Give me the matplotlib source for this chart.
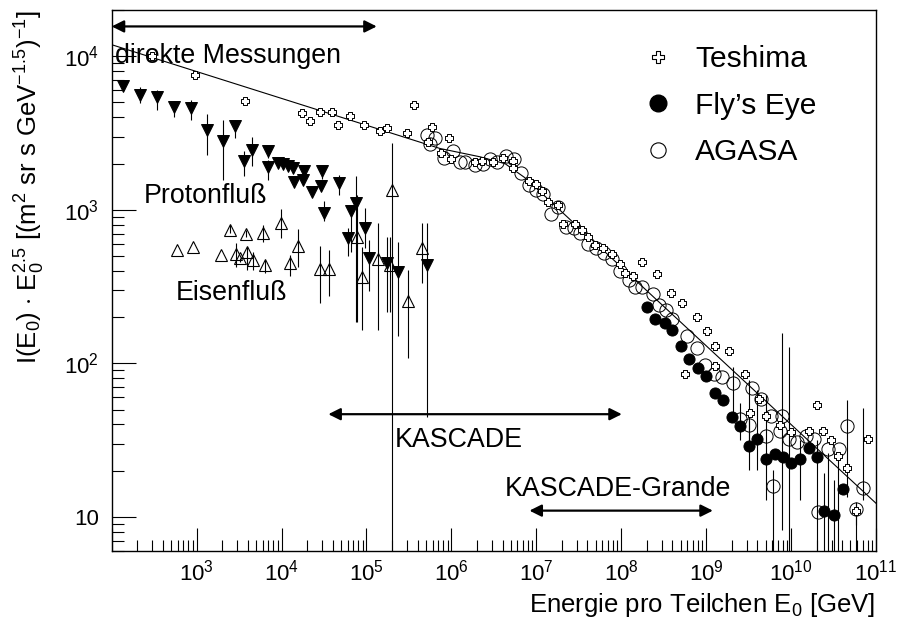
import numpy as np
import matplotlib
matplotlib.use("Agg")
import matplotlib.pyplot as plt
from matplotlib.path import Path
from matplotlib.lines import Line2D
from matplotlib.ticker import LogLocator, FuncFormatter, NullFormatter

plt.rcParams['font.family'] = ['Liberation Sans', 'DejaVu Sans']
plt.rcParams['mathtext.fontset'] = 'custom'
plt.rcParams['mathtext.rm'] = 'Liberation Sans'
plt.rcParams['mathtext.it'] = 'Liberation Sans:italic'
plt.rcParams['mathtext.bf'] = 'Liberation Sans:bold'

# ---------------- data (log10 E [GeV], log10 flux*E^2.5) ----------------
proton_lgE = [2.137, 2.333, 2.530, 2.734, 2.930, 3.126, 3.314, 3.452, 3.558, 3.656, 3.837, 3.837,
              3.962, 4.021, 4.080, 4.139, 4.147, 4.265, 4.257, 4.363, 4.474, 4.462, 4.501, 4.681,
              4.815, 4.874, 4.780, 4.983, 5.034, 5.246, 5.369, 5.710]
proton_lgF = [3.803, 3.749, 3.734, 3.669, 3.663, 3.517, 3.445, 3.543, 3.315, 3.391, 3.386, 3.278,
              3.304, 3.300, 3.282, 3.272, 3.184, 3.250, 3.195, 3.119, 3.250, 3.152, 2.978, 3.174,
              2.989, 3.044, 2.816, 2.881, 2.685, 2.653, 2.598, 2.642]
proton_lgF_hi = [3.830, 3.797, 3.782, 3.706, 3.712, 3.625, 3.586, 3.586, 3.380, 3.474, 3.412, 3.326,
                 3.320, 3.320, 3.300, 3.290, 3.200, 3.280, 3.220, 3.140, 3.287, 3.180, 3.060, 3.228,
                 3.013, 3.217, 2.883, 3.013, 2.805, 2.826, 2.793, 2.913]
proton_lgF_lo = [3.780, 3.695, 3.651, 3.604, 3.582, 3.358, 3.195, 3.469, 3.217, 3.287, 3.337, 3.195,
                 3.290, 3.280, 3.260, 3.250, 3.160, 3.220, 3.170, 3.090, 3.200, 3.120, 2.930, 3.098,
                 2.726, 2.272, 2.700, 2.752, 2.468, 2.337, 2.175, 1.651]

iron_lgE = [2.766, 2.961, 3.287, 3.393, 3.461, 3.511, 3.582, 3.590, 3.661, 3.786, 3.806, 3.991,
            4.100, 4.198, 4.453, 4.563, 4.893, 4.945, 5.140, 5.278, 5.298, 5.494, 5.651]
iron_lgF = [2.739, 2.757, 2.707, 2.870, 2.713, 2.685, 2.842, 2.728, 2.670, 2.852, 2.642, 2.917,
            2.653, 2.765, 2.614, 2.614, 2.826, 2.562, 2.679, 2.642, 3.130, 2.403, 2.750]
iron_lgF_hi = [2.739, 2.757, 2.707, 2.900, 2.785, 2.685, 2.870, 2.759, 2.726, 2.902, 2.674, 3.007,
               2.707, 2.876, 2.765, 2.739, 3.098, 2.759, 2.915, 2.824, 3.436, 2.609, 2.915]
iron_lgF_lo = [2.739, 2.757, 2.707, 2.850, 2.629, 2.660, 2.820, 2.609, 2.609, 2.792, 2.590, 2.818,
               2.570, 2.629, 2.394, 2.440, 2.270, 2.218, 2.218, 2.335, 0.300, 2.036, 2.524]

teshima_lgE = [2.47, 2.98, 3.57, 4.24, 4.33, 4.45, 4.60, 4.66, 4.81, 4.97, 5.16, 5.24, 5.48, 5.56,
               5.77, 5.73, 5.97, 5.88, 5.99, 6.28, 6.36, 6.49, 6.61, 6.72, 6.73, 6.91, 7.00, 7.07,
               7.14, 7.26, 7.32, 7.45, 7.54, 7.61, 7.69, 7.79, 7.89, 7.98, 8.05, 8.14, 8.25, 8.42,
               8.59, 8.71, 8.89, 9.01, 9.11, 9.27, 8.75, 9.11, 9.46, 9.62, 9.52, 9.70, 9.87, 10.00,
               10.21, 10.30, 10.38, 10.47, 10.55, 10.66, 10.91, 10.77]
teshima_lgF = [4.00, 3.88, 3.71, 3.63, 3.58, 3.64, 3.64, 3.55, 3.61, 3.55, 3.51, 3.53, 3.50, 3.68,
               3.54, 3.44, 3.47, 3.37, 3.33, 3.31, 3.32, 3.31, 3.34, 3.32, 3.27, 3.19, 3.17, 3.12,
               3.05, 3.03, 2.91, 2.91, 2.87, 2.82, 2.77, 2.75, 2.71, 2.65, 2.59, 2.57, 2.66, 2.58,
               2.46, 2.39, 2.30, 2.21, 2.11, 2.08, 1.93, 1.98, 1.93, 1.77, 1.68, 1.66, 1.60, 1.55,
               1.56, 1.73, 1.56, 1.50, 1.40, 1.32, 1.51, 1.04]
teshima_err_idx = [60, 63]
teshima_err_hi = [1.391, 1.10]
teshima_err_lo = [0.300, 0.95]

flyseye_lgE = [8.30, 8.40, 8.51, 8.60, 8.70, 8.80, 8.90, 9.00, 9.11, 9.20, 9.30, 9.40, 9.50, 9.60,
               9.71, 9.81, 9.91, 10.00, 10.10, 10.21, 10.30, 10.39, 10.51, 10.61]
flyseye_lgF = [2.37, 2.29, 2.26, 2.22, 2.11, 2.03, 1.97, 1.92, 1.81, 1.76, 1.65, 1.59, 1.46, 1.51,
               1.38, 1.41, 1.39, 1.35, 1.38, 1.45, 1.39, 1.04, 1.01, 1.18]
flyseye_err_idx = [12, 13, 14, 18, 20, 21, 22]
flyseye_err_hi = [1.632, 1.827, 1.795, 1.502, 1.502, 1.287, 1.241]
flyseye_err_lo = [1.306, 1.306, 1.111, 1.111, 0.300, 0.300, 0.300]

agasa_lgE = [5.71, 5.81, 5.75, 5.91, 6.02, 6.10, 6.16, 6.28, 6.37, 6.46, 6.54, 6.64, 6.74, 6.82,
             6.91, 7.00, 7.08, 7.17, 7.26, 7.35, 7.44, 7.52, 7.61, 7.70, 7.80, 7.89, 7.98, 8.09,
             8.16, 8.25, 8.37, 8.44, 8.53, 8.60, 8.78, 8.89, 8.99, 9.09, 9.19, 9.32, 9.40, 9.50,
             9.54, 9.64, 9.70, 9.76, 9.79, 9.87, 9.89, 9.98, 10.07, 10.18, 10.27, 10.32, 10.44,
             10.56, 10.66, 10.76, 10.85]
agasa_lgF = [3.49, 3.47, 3.43, 3.34, 3.38, 3.31, 3.31, 3.29, 3.30, 3.33, 3.31, 3.35, 3.33, 3.24,
             3.16, 3.13, 3.10, 2.97, 3.02, 2.89, 2.88, 2.85, 2.78, 2.75, 2.72, 2.68, 2.60, 2.54,
             2.50, 2.50, 2.45, 2.38, 2.35, 2.29, 2.18, 2.10, 1.99, 1.93, 1.91, 1.87, 1.64, 1.60,
             1.84, 1.77, 1.53, 1.66, 1.20, 1.56, 1.66, 1.51, 1.49, 1.53, 1.51, 1.03, 1.44,
             1.44, 1.59, 1.05, 1.19]
agasa_err_idx = [39, 40, 41, 46, 48, 49, 54, 56, 57, 58]
agasa_err_hi = [1.977, 1.743, 1.890, 1.306, 2.199, 2.108, 1.417, 1.762, 1.091, 1.710]
agasa_err_lo = [1.678, 1.502, 1.502, 0.300, 0.915, 0.300, 0.300, 1.130, 0.300, 1.111]

# broken power-law fit line
fit_lgE = [2.00, 5.867, 6.338, 6.633, 6.868, 11.00]
fit_lgF = [4.075, 3.399, 3.345, 3.300, 3.208, 1.089]

# energy ranges of the experiments (arrows)
range_labels = ["direkte Messungen", "KASCADE", "KASCADE-Grande"]
range_lgE_lo = [2.00, 4.551, 6.919]
range_lgE_hi = [5.121, 8.007, 9.079]
range_lgF = [4.194, 1.669, 1.041]

xlim = (1e2, 1e11)
ylim = (6.0, 2.0e4)

# ---------------- figure ----------------
W, H = 897, 619
fig = plt.figure(figsize=(W / 100, H / 100), dpi=100)
L, R, T, B = 111.7, 876.0, 10.0, 551.0
ax = fig.add_axes([L / W, 1 - B / H, (R - L) / W, (B - T) / H])
ax.set_xscale('log')
ax.set_yscale('log')
ax.set_xlim(*xlim)
ax.set_ylim(*ylim)

def p10(a):
    return 10.0 ** np.asarray(a, dtype=float)

# open cross marker (outline of a plus)
w = 0.18
cross_verts = [(-w, 0.5), (w, 0.5), (w, w), (0.5, w), (0.5, -w), (w, -w), (w, -0.5), (-w, -0.5),
               (-w, -w), (-0.5, -w), (-0.5, w), (-w, w), (-w, 0.5)]
cross_path = Path(cross_verts, [Path.MOVETO] + [Path.LINETO] * 11 + [Path.CLOSEPOLY])

ebar_kw = dict(color='black', lw=0.8)

def draw_err(lgE, lgF, lo, hi, idx=None):
    E = p10(lgE); F = p10(lgF)
    lo = p10(lo); hi = p10(hi)
    if idx is not None:
        E = E[idx]; F = F[idx]
    ax.vlines(E, lo, hi, **ebar_kw, zorder=2)

# error bars
draw_err(proton_lgE, proton_lgF, proton_lgF_lo, proton_lgF_hi)
draw_err(iron_lgE, iron_lgF, iron_lgF_lo, iron_lgF_hi)
draw_err(teshima_lgE, teshima_lgF, teshima_err_lo, teshima_err_hi, teshima_err_idx)
draw_err(flyseye_lgE, flyseye_lgF, flyseye_err_lo, flyseye_err_hi, flyseye_err_idx)
draw_err(agasa_lgE, agasa_lgF, agasa_err_lo, agasa_err_hi, agasa_err_idx)

# fit line
ax.plot(p10(fit_lgE), p10(fit_lgF), color='black', lw=0.8, zorder=3)

# markers
ax.plot(p10(proton_lgE), p10(proton_lgF), ls='none', marker='v', ms=8.5,
        mfc='black', mec='black', mew=0.7, zorder=4)
ax.plot(p10(iron_lgE), p10(iron_lgF), ls='none', marker='^', ms=9,
        mfc='none', mec='black', mew=0.8, zorder=4)
ax.plot(p10(teshima_lgE), p10(teshima_lgF), ls='none', marker=cross_path, ms=6.2,
        mfc='white', mec='black', mew=0.7, zorder=5)
ax.plot(p10(flyseye_lgE), p10(flyseye_lgF), ls='none', marker='o', ms=8,
        mfc='black', mec='black', mew=0.7, zorder=4)
ax.plot(p10(agasa_lgE), p10(agasa_lgF), ls='none', marker='o', ms=9.5,
        mfc='none', mec='black', mew=0.7, zorder=4)

# arrows
for lab, e0, e1, f in zip(range_labels, range_lgE_lo, range_lgE_hi, range_lgF):
    ax.annotate('', xy=(10 ** e1, 10 ** f), xytext=(10 ** e0, 10 ** f),
                arrowprops=dict(arrowstyle='<|-|>', color='black', lw=1.6,
                                mutation_scale=18, shrinkA=0, shrinkB=0),
                zorder=6, annotation_clip=False)

# texts
tfs = 19.3
ax.text(0.0044, 0.902, "direkte Messungen", transform=ax.transAxes, fontsize=tfs, va='baseline', ha='left')
ax.text(0.0413, 0.643, "Protonfluß", transform=ax.transAxes, fontsize=tfs, va='baseline', ha='left')
ax.text(0.0837, 0.464, "Eisenfluß", transform=ax.transAxes, fontsize=tfs, va='baseline', ha='left')
ax.text(0.3697, 0.1928, "KASCADE", transform=ax.transAxes, fontsize=tfs, va='baseline', ha='left')
ax.text(0.5137, 0.1022, "KASCADE-Grande", transform=ax.transAxes, fontsize=tfs, va='baseline', ha='left')

# legend
handles = [Line2D([], [], ls='none', marker=cross_path, ms=9, mfc='white', mec='black', mew=0.8),
           Line2D([], [], ls='none', marker='o', ms=12, mfc='black', mec='black'),
           Line2D([], [], ls='none', marker='o', ms=11, mfc='none', mec='black', mew=0.8)]
ax.legend(handles, ["Teshima", "Fly’s Eye", "AGASA"], loc='upper left',
          bbox_to_anchor=((643 - L) / (R - L), 1 - (45 - T) / (B - T)),
          frameon=False, fontsize=21.6, handlelength=1.0, handletextpad=0.73,
          labelspacing=0.62, borderaxespad=0, borderpad=0)

# axes styling
for s in ax.spines.values():
    s.set_linewidth(1.0)
ax.xaxis.set_major_locator(LogLocator(base=10, numticks=20))
ax.xaxis.set_minor_locator(LogLocator(base=10, subs=np.arange(2, 10), numticks=20))
ax.yaxis.set_major_locator(LogLocator(base=10, numticks=20))
ax.yaxis.set_minor_locator(LogLocator(base=10, subs=np.arange(2, 10), numticks=20))

def xfmt(v, pos):
    e = int(round(np.log10(v)))
    if e <= 2:
        return ''
    return r'$\mathregular{10^{%d}}$' % e

def yfmt(v, pos):
    e = int(round(np.log10(v)))
    if e == 1:
        return '10'
    return r'$\mathregular{10^{%d}}$' % e

ax.xaxis.set_major_formatter(FuncFormatter(xfmt))
ax.yaxis.set_major_formatter(FuncFormatter(yfmt))
ax.xaxis.set_minor_formatter(NullFormatter())
ax.yaxis.set_minor_formatter(NullFormatter())
ax.tick_params(which='both', direction='in', top=False, right=False, width=0.8)
ax.tick_params(axis='x', which='major', length=16.5, pad=6, labelsize=16)
ax.tick_params(axis='x', which='minor', length=8)
ax.tick_params(axis='y', which='major', length=17, pad=9, labelsize=16)
ax.tick_params(axis='y', which='minor', length=8.6)

fig.text(875 / W, 1 - 611.7 / H, "Energie pro Teilchen E$_0$ [GeV]", ha='right', va='baseline',
         fontsize=18.5)
fig.text(30 / W, 1 - 10 / H,
         r"I(E$_0$) $\cdot$ E$_0^{2.5}$ [(m$^2$ sr s GeV$^{-1.5}$)$^{-1}$]",
         rotation=90, ha='center', va='top', fontsize=18.5)

fig.savefig('out.png', dpi=100)
